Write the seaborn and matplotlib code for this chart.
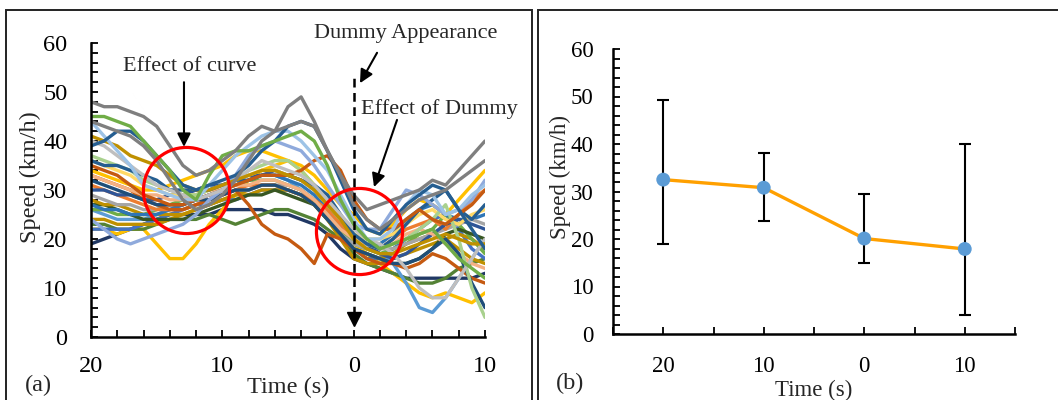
import matplotlib
matplotlib.use("Agg")
import matplotlib.pyplot as plt
from matplotlib.patches import Rectangle
import numpy as np
import pandas as pd
import seaborn as sns

# ---------------- data: panel (a) speed traces, t = -20 .. 10 s (1 s step) ----------------
time_s = list(range(-20, 11))
trace_A = [48,47,47,46,45,43,39,35,33,34,36,38,41,43,42,47,49,44,38,33,29,26,27,28,29,30,32,31,34,37,40]
trace_B = [44,43,42,41,39,36,32,28,26,27,29,32,36,40,42,43,44,43,38,33,27,24,22,24,26,28,29,30,32,34,36]
trace_C = [45,45,44,43,40,37,34,30,28,33,37,38,38,39,40,41,42,40,35,28,23,20,18,19,20,21,22,19,16,14,12]
trace_D = [39,40,42,42,40,37,34,31,30,31,32,33,35,38,40,43,44,43,38,32,26,22,21,24,27,29,31,30,26,22,18]
trace_E = [44,41,38,35,31,30,29,28,28,31,34,37,39,41,42,42,40,37,34,29,24,20,20,22,27,30,29,25,26,29,31]
trace_F = [22,22,21,22,22,19,16,16,19,23,26,29,32,34,35,36,34,31,27,23,19,17,15,13,11,9,8,9,8,7,9]
trace_G = [33,32,31,30,28,27,26,26,27,28,29,30,27,23,21,20,18,15,21,20,18,16,15,15,14,15,17,16,14,12,11]
trace_H = [35,34,33,31,29,28,27,27,28,29,30,31,32,33,33,33,34,36,37,34,28,24,22,22,24,26,24,23,25,27,30]
trace_I = [33,32,31,30,29,29,28,28,29,30,30,31,31,32,32,31,30,28,25,22,20,19,18,19,21,22,21,19,17,15,14]
trace_J = [19,20,21,22,23,24,25,25,25,25,26,26,26,26,25,25,24,23,21,18,16,15,14,13,12,12,12,12,12,12,13]
trace_K = [27,26,26,25,25,25,26,27,28,29,30,31,32,33,33,32,31,29,26,23,20,19,19,21,24,26,27,25,24,24,25]
trace_L = [36,35,35,34,33,32,30,30,30,30,31,32,32,33,33,33,32,31,29,25,21,19,18,20,23,26,28,30,26,24,27]
trace_M = [28,27,27,26,25,25,25,25,26,27,28,29,30,31,31,30,29,27,24,21,18,17,16,17,19,20,21,20,18,16,15]
trace_N = [41,40,39,37,36,35,33,31,30,30,31,32,33,34,34,33,32,30,27,24,20,18,17,17,18,19,20,21,20,19,19]
trace_O = [37,36,35,34,32,31,30,29,29,30,31,32,34,35,36,36,34,31,27,24,21,19,18,19,20,22,24,27,20,10,4]
trace_P = [23,23,22,22,22,23,24,24,24,25,24,23,24,25,26,26,25,24,22,20,17,15,14,13,12,11,11,12,14,15,16]
trace_Q = [40,39,37,35,33,31,30,29,28,29,30,32,34,36,35,34,33,31,28,25,22,20,19,17,14,10,8,8,12,16,20]
trace_R = [26,25,24,24,24,25,26,27,28,29,30,31,32,33,33,32,30,28,25,22,19,18,17,15,11,6,5,8,12,16,20]
trace_S = [24,22,20,19,20,21,22,23,25,28,30,33,37,39,40,39,38,35,31,27,23,22,22,26,30,29,27,25,26,28,32]
trace_T = [34,33,32,31,30,30,31,32,33,34,35,37,38,38,37,36,35,33,30,27,25,22,21,23,26,28,27,25,28,31,34]
trace_U = [31,30,29,28,27,26,26,26,27,28,29,30,31,31,31,30,29,28,26,23,20,19,18,20,22,23,24,22,25,28,30]
trace_V = [30,30,29,29,28,28,29,29,30,31,31,32,33,33,34,33,32,30,27,24,21,19,17,16,17,19,21,23,24,23,22]
trace_W = [24,24,23,23,23,23,24,25,26,27,28,29,29,30,30,30,29,27,24,20,16,15,15,16,17,18,19,20,21,20,18]
trace_X = [26,26,25,25,25,26,27,28,29,30,31,31,32,32,32,31,30,28,25,22,19,18,17,18,19,21,22,25,23,20,17]
trace_Y = [32,31,30,29,28,27,27,27,28,28,29,30,30,31,31,30,29,27,24,21,18,17,16,15,15,16,18,20,17,11,6]
trace_Z = [29,28,27,27,26,26,27,27,28,29,29,30,30,31,31,31,30,28,25,21,19,18,18,18,19,20,21,22,23,24,23]
trace_AA = [22,22,22,22,23,24,25,26,27,27,28,28,29,30,30,30,29,27,24,21,18,16,16,18,20,22,24,25,22,18,16]
trace_AB = [27,27,26,25,24,24,24,24,25,26,27,28,29,29,30,29,28,27,24,21,18,17,16,15,15,16,18,21,22,21,20]
trace_AC = [36,35,34,33,31,30,29,29,29,30,31,32,33,34,34,33,32,30,27,24,21,20,20,21,23,25,26,24,23,25,26]

trace_colors = {
    "J": "#203864", "F": "#FFC000", "P": "#548235", "AA": "#4472C4", "W": "#BF9000",
    "R": "#5B9BD5", "X": "#70AD47", "AB": "#385723", "M": "#BF9000", "K": "#2E75B6",
    "Z": "#A5A5A5", "U": "#ED7D31", "V": "#2F5597", "G": "#C55A11", "I": "#F4B183",
    "Y": "#1F4E79", "AC": "#FFD966", "T": "#FFC000", "O": "#A9D18E", "L": "#255E91",
    "H": "#C55A11", "S": "#8FAADC", "Q": "#BFBFBF", "N": "#BF9000", "E": "#9DC3E6",
    "D": "#255E91", "C": "#70AD47", "B": "#7F7F7F", "A": "#7F7F7F",
}
traces = {
    "J": trace_J, "F": trace_F, "P": trace_P, "AA": trace_AA, "W": trace_W,
    "R": trace_R, "X": trace_X, "AB": trace_AB, "M": trace_M, "K": trace_K,
    "Z": trace_Z, "U": trace_U, "V": trace_V, "G": trace_G, "I": trace_I,
    "Y": trace_Y, "AC": trace_AC, "T": trace_T, "O": trace_O, "L": trace_L,
    "H": trace_H, "S": trace_S, "Q": trace_Q, "N": trace_N, "E": trace_E,
    "D": trace_D, "C": trace_C, "B": trace_B, "A": trace_A,
}

# ---------------- data: panel (b) ----------------
b_labels = ["20", "10", "0", "10"]
b_mean = [32.5, 30.8, 20.1, 17.9]
b_min = [19.0, 23.8, 15.0, 4.0]
b_max = [49.2, 38.2, 29.4, 40.1]

# ---------------- style ----------------
sns.set_style("ticks")
plt.rcParams["font.family"] = ["Liberation Serif", "DejaVu Serif"]

W, H = 1058, 400
fig = plt.figure(figsize=(W / 100, H / 100), dpi=100)

# panel frames
fig.add_artist(Rectangle((6 / W, -0.05), (532 - 6) / W, 0.975 + 0.05, transform=fig.transFigure,
                         fill=False, lw=1.4, edgecolor="#222222"))
fig.add_artist(Rectangle((538 / W, -0.05), 1.0, 0.975 + 0.05, transform=fig.transFigure,
                         fill=False, lw=1.4, edgecolor="#222222"))

# ---------------- panel (a) ----------------
axA = fig.add_axes([91 / W, (400 - 337) / H, 394 / W, 294 / H])
rows = []
for name, vals in traces.items():
    for t, v in zip(time_s, vals):
        rows.append({"trace": name, "t": t, "v": v})
dfA = pd.DataFrame(rows)
sns.lineplot(data=dfA, x="t", y="v", hue="trace", palette=trace_colors, estimator=None,
             legend=False, lw=2.4, ax=axA, hue_order=list(traces.keys()))

axA.set_xlim(-20, 10)
axA.set_ylim(0, 60)
axA.set_xticks([-20, -10, 0, 10])
axA.set_xticklabels(["20", "10", "0", "10"])
axA.set_xticks(np.arange(-20, 11, 2), minor=True)
axA.set_yticks(np.arange(0, 61, 10))
axA.set_yticks(np.arange(0, 61, 2), minor=True)
axA.tick_params(axis="both", which="both", direction="in", length=5, width=1.3, colors="k")
axA.tick_params(axis="x", which="major", pad=14, labelsize=17.5)
axA.tick_params(axis="y", which="major", pad=17, labelsize=17.5)
for s in ["top", "right"]:
    axA.spines[s].set_visible(False)
for s in ["left", "bottom"]:
    axA.spines[s].set_linewidth(1.8)
    axA.spines[s].set_color("k")
axA.set_xlabel("Time (s)", fontsize=17.5)
axA.set_ylabel("Speed (km/h)", fontsize=17.5)
axA.yaxis.set_label_coords(-0.127, 0.5425)
axA.xaxis.set_label_coords(0.5, -0.136)

# red circles
axA.plot([-12.8], [30.0], marker="o", ms=62, mfc="none", mec="#FF0000", mew=2.3, clip_on=False)
axA.plot([0.42], [21.6], marker="o", ms=62, mfc="none", mec="#FF0000", mew=2.3, clip_on=False)

# dummy appearance dashed line
axA.plot([0, 0], [4.5, 53.5], ls=(0, (3.5, 2.2)), lw=1.8, color="k")
axA.plot([0], [3.6], marker="v", ms=10, color="k", clip_on=False)

arrow = dict(arrowstyle="-|>", lw=1.5, color="k", mutation_scale=20, shrinkA=0, shrinkB=0)
axA.text(-12.46, 55.3, "Effect of curve", ha="center", va="center", fontsize=16)
axA.annotate("", xy=(-12.92, 38.8), xytext=(-12.92, 52.0), arrowprops=arrow)
axA.text(3.99, 62.0, "Dummy Appearance", ha="center", va="center", fontsize=16, clip_on=False)
axA.annotate("", xy=(0.48, 51.8), xytext=(1.78, 58.0), arrowprops=arrow, annotation_clip=False)
axA.text(6.5, 46.5, "Effect of Dummy", ha="center", va="center", fontsize=16)
axA.annotate("", xy=(1.55, 30.6), xytext=(3.3, 44.3), arrowprops=arrow)

fig.text(38 / W, 1 - 385 / H, "(a)", ha="center", va="center", fontsize=17.5)

# ---------------- panel (b) ----------------
axB = fig.add_axes([613 / W, (400 - 334) / H, 402 / W, 285 / H])
xpos = list(range(len(b_labels)))
dfB = pd.DataFrame({"x": xpos, "mean": b_mean})
lower = [m - lo for m, lo in zip(b_mean, b_min)]
upper = [hi - m for m, hi in zip(b_mean, b_max)]
axB.errorbar(xpos, b_mean, yerr=[lower, upper], fmt="none", ecolor="k", elinewidth=1.5,
             capsize=4, capthick=1.5, zorder=1)
sns.lineplot(data=dfB, x="x", y="mean", color="#FFA000", lw=2.4, ax=axB, zorder=2)
sns.scatterplot(data=dfB, x="x", y="mean", color="#5B9BD5", s=100, edgecolor="none",
                ax=axB, zorder=3)
axB.set_xlim(-0.5, 3.5)
axB.set_ylim(0, 60)
axB.set_xticks(xpos)
axB.set_xticklabels(b_labels)
axB.set_xticks(np.arange(-0.5, 3.51, 0.5), minor=True)
axB.set_yticks(np.arange(0, 61, 10))
axB.set_yticks(np.arange(0, 61, 2), minor=True)
axB.tick_params(axis="both", which="both", direction="in", length=5, width=1.3, colors="k")
axB.tick_params(axis="x", which="major", pad=16, labelsize=16.5)
axB.tick_params(axis="y", which="major", pad=14, labelsize=16.5)
for s in ["top", "right"]:
    axB.spines[s].set_visible(False)
for s in ["left", "bottom"]:
    axB.spines[s].set_linewidth(1.8)
    axB.spines[s].set_color("k")
axB.set_xlabel("Time (s)", fontsize=16.5)
axB.set_ylabel("Speed (km/h)", fontsize=16.5)
axB.yaxis.set_label_coords(-0.105, 0.551)
axB.xaxis.set_label_coords(0.5, -0.16)
fig.text(570 / W, 1 - 383 / H, "(b)", ha="center", va="center", fontsize=17.5)

fig.savefig("out.png", dpi=100)
